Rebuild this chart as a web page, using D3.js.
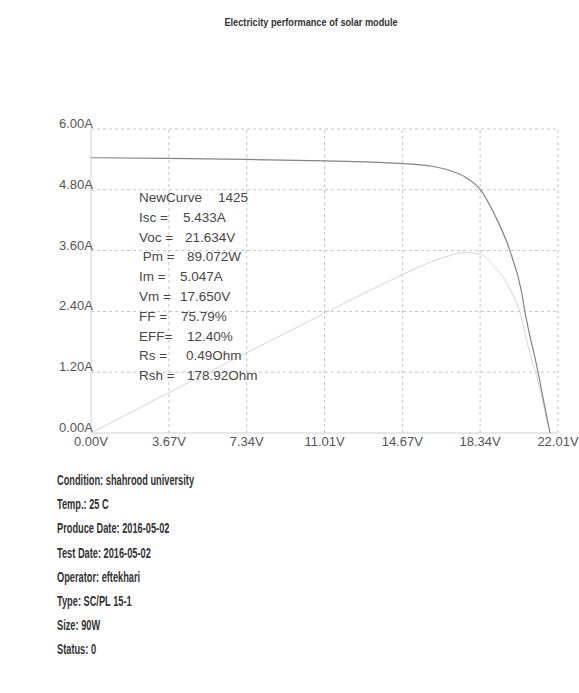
<!DOCTYPE html>
<meta charset="utf-8">
<head>
<style>
  body { margin: 0; background: #fff; }
  .tick-lbl { font-family: "Liberation Sans", Arial, sans-serif; font-size: 13px; fill: #555; }
  .info { font-family: "Liberation Sans", Arial, sans-serif; font-size: 13.5px; fill: #474747; }
  .narrow { font-family: "Liberation Sans", Arial, sans-serif; fill: #333; }
</style>
</head>
<body>
<div id="chart"></div>
<script src="https://d3js.org/d3.v7.min.js"></script>
<script>
// I-V curve
var volts   = [0, 3.67, 7.34, 11.01, 13.0, 14.56, 16.12, 16.92, 17.65, 18.38, 18.95, 19.75, 20.31, 20.45, 21.06, 21.35, 21.634];
var amps    = [5.433, 5.42, 5.40, 5.37, 5.35, 5.32, 5.26, 5.18, 5.047, 4.79, 4.37, 3.59, 2.75, 2.40, 1.22, 0.60, 0];
// P-V curve (faint line), watts
var watts   = [0, 19.9, 39.6, 59.1, 69.6, 77.5, 84.8, 87.6, 89.07, 88.0, 82.8, 70.9, 55.9, 49.1, 25.7, 12.8, 0];

var xTicks  = [0, 3.67, 7.34, 11.01, 14.67, 18.34, 22.01];
var yTicks  = [0, 1.2, 2.4, 3.6, 4.8, 6.0];

var infoLabels = ["NewCurve", "Isc =", "Voc =", " Pm =", "Im =", "Vm =", "FF =", "EFF=", "Rs =", "Rsh ="];
var infoValues = ["1425", "5.433A", "21.634V", "89.072W", "5.047A", "17.650V", "75.79%", "12.40%", "0.49Ohm", "178.92Ohm"];

var footer = ["Condition: shahrood university", "Temp.: 25 C", "Produce Date: 2016-05-02",
  "Test Date: 2016-05-02", "Operator: eftekhari", "Type: SC/PL 15-1", "Size: 90W", "Status: 0"];

var W = 579, H = 693;
var svg = d3.select("#chart").append("svg").attr("width", W).attr("height", H);

var x = d3.scaleLinear().domain([0, 22.01]).range([91, 558]);
var y = d3.scaleLinear().domain([0, 6]).range([433, 129]);
var yP = d3.scaleLinear().domain([0, 150]).range([433, 129]);

// title (condensed look)
svg.append("text").attr("class", "narrow")
  .attr("transform", "translate(311,26) scale(0.8,1)")
  .attr("text-anchor", "middle")
  .style("font-size", "11.5px").style("font-weight", "bold")
  .text("Electricity performance of solar module");

// grid
svg.append("g").selectAll("line").data(yTicks.slice(1)).join("line")
  .attr("x1", x(0)).attr("x2", x(22.01))
  .attr("y1", d => y(d)).attr("y2", d => y(d))
  .attr("stroke", "#c4c4c4").attr("stroke-dasharray", "3,3");
svg.append("g").selectAll("line").data(xTicks.slice(1)).join("line")
  .attr("x1", d => x(d)).attr("x2", d => x(d))
  .attr("y1", y(0)).attr("y2", y(6))
  .attr("stroke", "#c4c4c4").attr("stroke-dasharray", "3,3");

// axis lines
svg.append("line").attr("x1", x(0)).attr("x2", x(0)).attr("y1", y(0)).attr("y2", y(6))
  .attr("stroke", "#d0d0d0");
svg.append("line").attr("x1", x(0)).attr("x2", x(22.01)).attr("y1", y(0)).attr("y2", y(0))
  .attr("stroke", "#d0d0d0");

// tick labels
svg.append("g").selectAll("text").data(yTicks).join("text")
  .attr("class", "tick-lbl")
  .attr("x", 93).attr("y", d => y(d) - 1)
  .attr("text-anchor", "end")
  .text(d => d.toFixed(2) + "A");
svg.append("g").selectAll("text").data(xTicks).join("text")
  .attr("class", "tick-lbl")
  .attr("x", d => x(d)).attr("y", 446)
  .attr("text-anchor", "middle")
  .text(d => d.toFixed(2) + "V");

// curves
var pts = volts.map((v, i) => ({v: v, i: amps[i], p: watts[i]}));
svg.append("path").datum(pts)
  .attr("fill", "none").attr("stroke", "#d6d6d6").attr("stroke-width", 1)
  .attr("d", d3.line().x(d => x(d.v)).y(d => yP(d.p)).curve(d3.curveMonotoneX));
svg.append("path").datum(pts)
  .attr("fill", "none").attr("stroke", "#858585").attr("stroke-width", 1.2)
  .attr("d", d3.line().x(d => x(d.v)).y(d => y(d.i)).curve(d3.curveMonotoneX));

// info block
var valX = [218, 183, 185, 187, 180, 180, 181, 187, 186, 187];
var info = svg.append("g");
infoLabels.forEach(function(l, k) {
  info.append("text").attr("class", "info")
    .attr("x", 139).attr("y", 202 + k * 19.8)
    .attr("xml:space", "preserve").text(l);
  info.append("text").attr("class", "info")
    .attr("x", valX[k]).attr("y", 202 + k * 19.8)
    .text(infoValues[k]);
});

// footer (condensed look)
svg.append("g").selectAll("text").data(footer).join("text")
  .attr("class", "narrow")
  .attr("transform", (d, i) => "translate(57," + (485 + i * 24.2) + ") scale(0.66,1)")
  .style("font-size", "14px").style("font-weight", "bold")
  .text(d => d);
</script>
</body>
